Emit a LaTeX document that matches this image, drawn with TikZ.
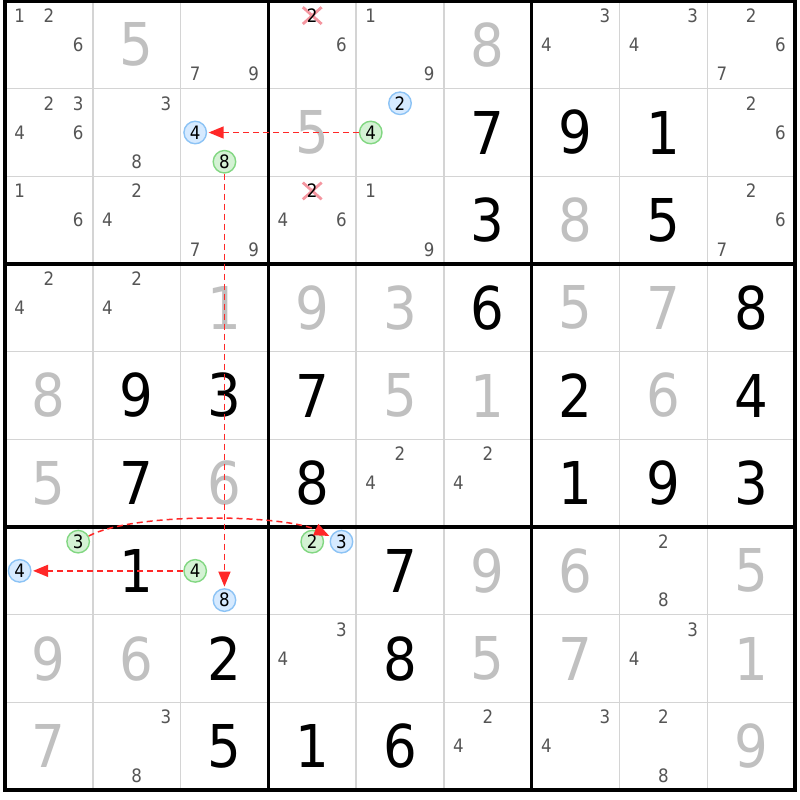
\documentclass[tikz,border=0pt]{standalone}
\usepackage{fontspec}
\setmainfont{DejaVu Sans}
\newfontfamily\digitfont[FakeStretch=0.9]{DejaVu Sans}
\usetikzlibrary{arrows.meta,shapes.misc}
\definecolor{givengray}{RGB}{192,192,192}
\definecolor{candgray}{RGB}{85,85,85}
\definecolor{thingrid}{RGB}{212,212,212}
\definecolor{bfill}{RGB}{214,234,255}
\definecolor{bline}{RGB}{140,195,245}
\definecolor{gfill}{RGB}{212,242,212}
\definecolor{gline}{RGB}{130,215,130}
\definecolor{arrred}{RGB}{255,40,40}
\definecolor{xpink}{RGB}{245,150,160}
\newcommand\CW{87.78}
\newcommand\CH{87.67}
\tikzset{
  bigdigit/.style={font=\digitfont\fontsize{59}{59}\selectfont, inner sep=0pt},
  given/.style={bigdigit, text=black},
  solved/.style={bigdigit, text=givengray},
  cand/.style={font=\digitfont\fontsize{18.5}{18.5}\selectfont, inner sep=0pt, text=candgray},
  candblack/.style={cand, text=black},
  bluec/.style={cand, circle, draw=bline, fill=bfill, line width=1.4pt, minimum size=22.5pt, text=black},
  greenc/.style={cand, circle, draw=gline, fill=gfill, line width=1.4pt, minimum size=22.5pt, text=black},
  xmark/.style={cross out, draw=xpink, line width=2.8pt, minimum width=16pt, minimum height=14pt, inner sep=0pt},
  thinline/.style={draw=thingrid, line width=1.5pt},
  thickline/.style={draw=black, line width=3.5pt},
  arr/.style={draw=arrred, line width=1.5pt, dash pattern=on 6pt off 4pt, -{Triangle[length=15pt,width=12pt]}, shorten >=1.5pt}
}
\newcommand\bigd[4]{\node[#4] (d#1#2) at ({5+(#2-0.5)*\CW},{1+(#1-0.5)*\CH}) {#3};}
\newcommand\cnd[4][cand]{\node[#1] (k#2#3#4) at ({5+(#3-1)*\CW+(2*mod(#4-1,3)+1)*\CW/6},{1+(#2-1)*\CH+(2*floor((#4-1)/3)+1)*\CH/6}) {#4};}
\newcommand\xcnd[3]{\node[xmark] (x#1#2#3) at ({5+(#2-1)*\CW+(2*mod(#3-1,3)+1)*\CW/6},{1+(#1-1)*\CH+(2*floor((#3-1)/3)+1)*\CH/6}) {};}
\begin{document}
\begin{tikzpicture}[x=1pt,y=-1pt]
\useasboundingbox[fill=white] (0,0) rectangle (800,800);
% thin grid
\foreach \i in {1,2,4,5,7,8} {
  \draw[thinline] ({5+\i*\CW},1) -- ({5+\i*\CW},{1+9*\CH});
  \draw[thinline] (5,{1+\i*\CH}) -- ({5+9*\CW},{1+\i*\CH});
}
% thick grid
\foreach \i in {3,6} {
  \draw[thickline] ({5+\i*\CW},1) -- ({5+\i*\CW},{1+9*\CH});
  \draw[thickline] (5,{1+\i*\CH}) -- ({5+9*\CW},{1+\i*\CH});
}
\draw[thickline] (5,1) rectangle ({5+9*\CW},{1+9*\CH});
% big digits
\bigd{1}{2}{5}{solved} \bigd{1}{6}{8}{solved}
\bigd{2}{4}{5}{solved} \bigd{2}{6}{7}{given} \bigd{2}{7}{9}{given} \bigd{2}{8}{1}{given}
\bigd{3}{6}{3}{given} \bigd{3}{7}{8}{solved} \bigd{3}{8}{5}{given}
\bigd{4}{3}{1}{solved} \bigd{4}{4}{9}{solved} \bigd{4}{5}{3}{solved} \bigd{4}{6}{6}{given}
\bigd{4}{7}{5}{solved} \bigd{4}{8}{7}{solved} \bigd{4}{9}{8}{given}
\bigd{5}{1}{8}{solved} \bigd{5}{2}{9}{given} \bigd{5}{3}{3}{given} \bigd{5}{4}{7}{given}
\bigd{5}{5}{5}{solved} \bigd{5}{6}{1}{solved} \bigd{5}{7}{2}{given} \bigd{5}{8}{6}{solved} \bigd{5}{9}{4}{given}
\bigd{6}{1}{5}{solved} \bigd{6}{2}{7}{given} \bigd{6}{3}{6}{solved} \bigd{6}{4}{8}{given}
\bigd{6}{7}{1}{given} \bigd{6}{8}{9}{given} \bigd{6}{9}{3}{given}
\bigd{7}{2}{1}{given} \bigd{7}{5}{7}{given} \bigd{7}{6}{9}{solved} \bigd{7}{7}{6}{solved} \bigd{7}{9}{5}{solved}
\bigd{8}{1}{9}{solved} \bigd{8}{2}{6}{solved} \bigd{8}{3}{2}{given} \bigd{8}{5}{8}{given}
\bigd{8}{6}{5}{solved} \bigd{8}{7}{7}{solved} \bigd{8}{9}{1}{solved}
\bigd{9}{1}{7}{solved} \bigd{9}{3}{5}{given} \bigd{9}{4}{1}{given} \bigd{9}{5}{6}{given} \bigd{9}{9}{9}{solved}
% candidates
\cnd{1}{1}{1} \cnd{1}{1}{2} \cnd{1}{1}{6}
\cnd{1}{3}{7} \cnd{1}{3}{9}
\xcnd{1}{4}{2} \cnd[candblack]{1}{4}{2} \cnd{1}{4}{6}
\cnd{1}{5}{1} \cnd{1}{5}{9}
\cnd{1}{7}{3} \cnd{1}{7}{4}
\cnd{1}{8}{3} \cnd{1}{8}{4}
\cnd{1}{9}{2} \cnd{1}{9}{6} \cnd{1}{9}{7}
\cnd{2}{1}{2} \cnd{2}{1}{3} \cnd{2}{1}{4} \cnd{2}{1}{6}
\cnd{2}{2}{3} \cnd{2}{2}{8}
\cnd[bluec]{2}{3}{4} \cnd[greenc]{2}{3}{8}
\cnd[bluec]{2}{5}{2} \cnd[greenc]{2}{5}{4}
\cnd{2}{9}{2} \cnd{2}{9}{6}
\cnd{3}{1}{1} \cnd{3}{1}{6}
\cnd{3}{2}{2} \cnd{3}{2}{4}
\cnd{3}{3}{7} \cnd{3}{3}{9}
\xcnd{3}{4}{2} \cnd[candblack]{3}{4}{2} \cnd{3}{4}{4} \cnd{3}{4}{6}
\cnd{3}{5}{1} \cnd{3}{5}{9}
\cnd{3}{9}{2} \cnd{3}{9}{6} \cnd{3}{9}{7}
\cnd{4}{1}{2} \cnd{4}{1}{4}
\cnd{4}{2}{2} \cnd{4}{2}{4}
\cnd{6}{5}{2} \cnd{6}{5}{4}
\cnd{6}{6}{2} \cnd{6}{6}{4}
\cnd[greenc]{7}{1}{3} \cnd[bluec]{7}{1}{4}
\cnd[greenc]{7}{3}{4} \cnd[bluec]{7}{3}{8}
\cnd[greenc]{7}{4}{2} \cnd[bluec]{7}{4}{3}
\cnd{7}{8}{2} \cnd{7}{8}{8}
\cnd{8}{4}{3} \cnd{8}{4}{4}
\cnd{8}{8}{3} \cnd{8}{8}{4}
\cnd{9}{2}{3} \cnd{9}{2}{8}
\cnd{9}{6}{2} \cnd{9}{6}{4}
\cnd{9}{7}{3} \cnd{9}{7}{4}
\cnd{9}{8}{2} \cnd{9}{8}{8}
% links
\draw[arr] (k254) -- (k234);
\draw[arr] (k238) -- (k738);
\draw[arr] (k734) -- (k714);
\draw[arr] (k713) to[out=28,in=155,looseness=0.55] (k743);
\end{tikzpicture}
\end{document}
